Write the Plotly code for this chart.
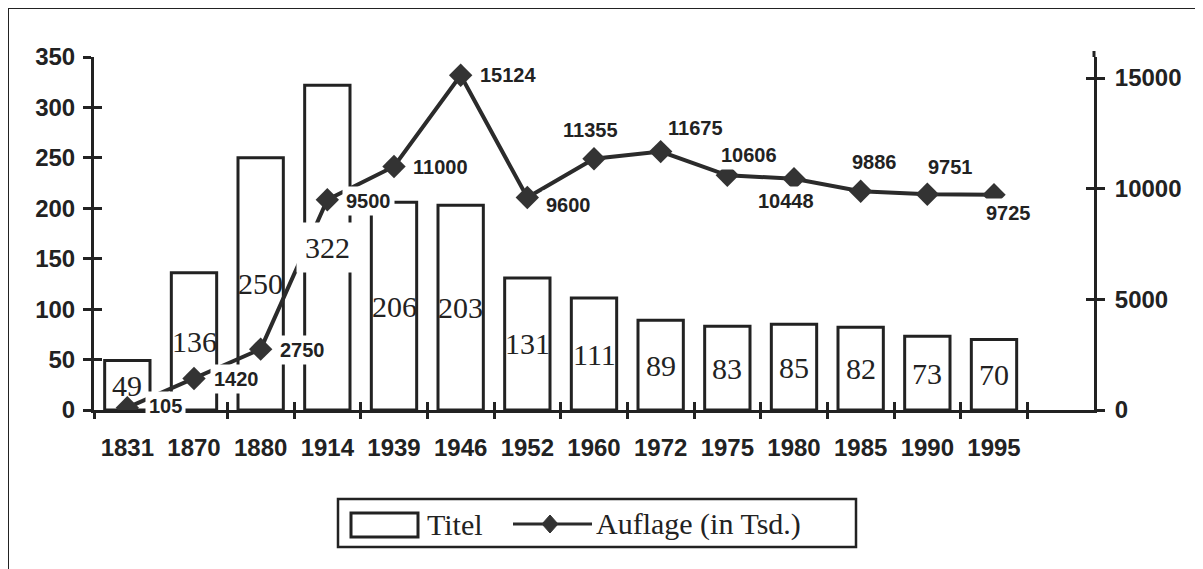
import plotly.graph_objects as go

# ---------------- data ----------------
years = ["1831", "1870", "1880", "1914", "1939", "1946", "1952",
         "1960", "1972", "1975", "1980", "1985", "1990", "1995"]
titel = [49, 136, 250, 322, 206, 203, 131, 111, 89, 83, 85, 82, 73, 70]
auflage = [105, 1420, 2750, 9500, 11000, 15124, 9600,
           11355, 11675, 10606, 10448, 9886, 9751, 9725]
left_ticks = [0, 50, 100, 150, 200, 250, 300, 350]
right_ticks = [0, 5000, 10000, 15000]

# label placement for the Auflage values (pixel offsets: dx, dy up)
auf_offsets = [(38, 2), (42, 0), (42, -1), (41, -1), (46, 0), (47, 0), (41, -7),
               (-4, 29), (35, 24), (22, 20), (-8, -22), (14, 29), (23, 27), (14, -18)]

# ---------------- geometry ----------------
OFF = 8                      # page body margin of the html page
W, H = 1203 - OFF, 569 - OFF
L, T = 94 - OFF, 57 - OFF
R = W - (1094 - OFF)
B = H - (410 - OFF)
PW, PH = W - L - R, H - T - B
LEFT_MAX = 350
RIGHT_MAX = 15950

def px(x):
    """screen x -> paper"""
    return (x - OFF - L) / PW

def py(y):
    """screen y -> paper"""
    return (H - B - (y - OFF)) / PH

INK = "#222222"
SANS = "Liberation Sans, Arial, sans-serif"
SERIF = "Liberation Serif, Times New Roman, serif"

xs = list(range(len(years)))
bounds = [i - 0.5 for i in range(len(years) + 1)]

fig = go.Figure()

fig.add_trace(go.Bar(
    x=xs, y=titel, name="Titel",
    marker=dict(color="white", line=dict(color=INK, width=3)),
    width=0.68, showlegend=False, hovertext=years,
))
fig.add_trace(go.Scatter(
    x=xs, y=auflage, name="Auflage (in Tsd.)", yaxis="y2",
    mode="lines+markers",
    line=dict(color="#2b2b2b", width=4),
    marker=dict(symbol="diamond", size=18, color="#333333"),
    showlegend=False, hovertext=years,
))

# invisible helper traces so that the tick-only overlay axes get drawn
for xa, ya in [("x2", "y"), ("x3", "y"), ("x", "y3"), ("x", "y4")]:
    fig.add_trace(go.Scatter(x=[0], y=[0], xaxis=xa, yaxis=ya, mode="markers",
                             marker=dict(opacity=0, size=1), showlegend=False,
                             hoverinfo="skip"))

annotations = []
# bar value labels
for i, v in zip(xs, titel):
    a = dict(x=i, y=v / 2, xref="x", yref="y", text=str(v), showarrow=False,
             font=dict(family=SERIF, size=30, color=INK),
             xanchor="center", yanchor="middle")
    if v == 322:
        a.update(bgcolor="white", borderpad=8)
    annotations.append(a)

# Auflage value labels
for i, v, (dx, dy) in zip(xs, auflage, auf_offsets):
    annotations.append(dict(
        x=i, y=v, xref="x", yref="y2", text=str(v), showarrow=False,
        font=dict(family=SANS, size=20, color=INK, weight="bold"),
        xanchor="center", yanchor="middle", xshift=dx, yshift=dy,
        bgcolor="white", borderpad=3,
    ))

# custom legend texts
annotations.append(dict(x=px(425), y=py(524), xref="paper", yref="paper",
                        text="Titel", showarrow=False, xanchor="left", yanchor="middle",
                        font=dict(family=SERIF, size=30, color=INK)))
annotations.append(dict(x=px(594), y=py(524), xref="paper", yref="paper",
                        text="Auflage (in Tsd.)", showarrow=False, xanchor="left",
                        yanchor="middle", font=dict(family=SERIF, size=30, color=INK)))

shapes = [
    # page frame (top and left edge of the scan)
    dict(type="line", xref="paper", yref="paper", x0=px(8), x1=px(1203),
         y0=py(8), y1=py(8), line=dict(color=INK, width=2)),
    dict(type="line", xref="paper", yref="paper", x0=px(8), x1=px(8),
         y0=py(8), y1=py(569), line=dict(color=INK, width=2)),
    # right axis runs a little past the plot top
    dict(type="line", xref="paper", yref="paper", x0=1, x1=1,
         y0=1, y1=py(51), line=dict(color=INK, width=3)),
    # legend box
    dict(type="rect", xref="paper", yref="paper", x0=px(338), x1=px(856),
         y0=py(547), y1=py(499), line=dict(color=INK, width=2.5), fillcolor="white",
         layer="below"),
    # legend bar symbol
    dict(type="rect", xref="paper", yref="paper", x0=px(351), x1=px(418),
         y0=py(537), y1=py(513), line=dict(color=INK, width=3)),
    # legend line symbol
    dict(type="line", xref="paper", yref="paper", x0=px(513), x1=px(592),
         y0=py(524), y1=py(524), line=dict(color="#2b2b2b", width=3)),
    dict(type="path", xref="paper", yref="paper",
         path="M {a},{b} L {c},{d} L {e},{f} L {g},{h} Z".format(
             a=px(550), b=py(515), c=px(558), d=py(524),
             e=px(550), f=py(533), g=px(542), h=py(524)),
         fillcolor="#333333", line=dict(color="#333333", width=1)),
]

tickfont = dict(family=SANS, size=24, color=INK, weight="bold")
tk = dict(ticklen=8, tickwidth=2.5, tickcolor=INK)
hidden = dict(showticklabels=False, showline=False, showgrid=False, zeroline=False)

fig.update_layout(
    width=W, height=H,
    margin=dict(l=L, r=R, t=T, b=B, pad=0),
    paper_bgcolor="white", plot_bgcolor="white",
    showlegend=False,
    annotations=annotations,
    shapes=shapes,
    xaxis=dict(range=[-0.5, 14.5], tickmode="array", tickvals=xs, ticktext=years,
               ticks="", showline=True, linecolor=INK, linewidth=3, showgrid=False,
               zeroline=False, tickfont=tickfont, ticklabelstandoff=14),
    xaxis2=dict(overlaying="x", anchor="y", side="bottom", range=[-0.5, 14.5],
                tickmode="array", tickvals=bounds, ticks="outside", **tk, **hidden),
    xaxis3=dict(overlaying="x", anchor="y", side="bottom", range=[-0.5, 14.5],
                tickmode="array", tickvals=bounds, ticks="inside", **tk, **hidden),
    yaxis=dict(range=[0, LEFT_MAX], tickmode="array", tickvals=left_ticks,
               ticks="outside", **tk,
               showline=True, linecolor=INK, linewidth=3, showgrid=False,
               zeroline=False, tickfont=tickfont, ticklabelstandoff=3),
    yaxis2=dict(range=[0, RIGHT_MAX], overlaying="y", side="right", anchor="x",
                tickmode="array", tickvals=right_ticks, tickformat="d",
                ticks="outside", **tk,
                showline=True, linecolor=INK, linewidth=3, showgrid=False,
                zeroline=False, tickfont=tickfont, ticklabelstandoff=5),
    yaxis3=dict(range=[0, LEFT_MAX], overlaying="y", side="left", anchor="x",
                tickmode="array", tickvals=left_ticks, ticks="inside", **tk, **hidden),
    yaxis4=dict(range=[0, RIGHT_MAX], overlaying="y", side="right", anchor="x",
                tickmode="array", tickvals=right_ticks, ticks="inside", **tk, **hidden),
)

fig.write_html("out.html")
